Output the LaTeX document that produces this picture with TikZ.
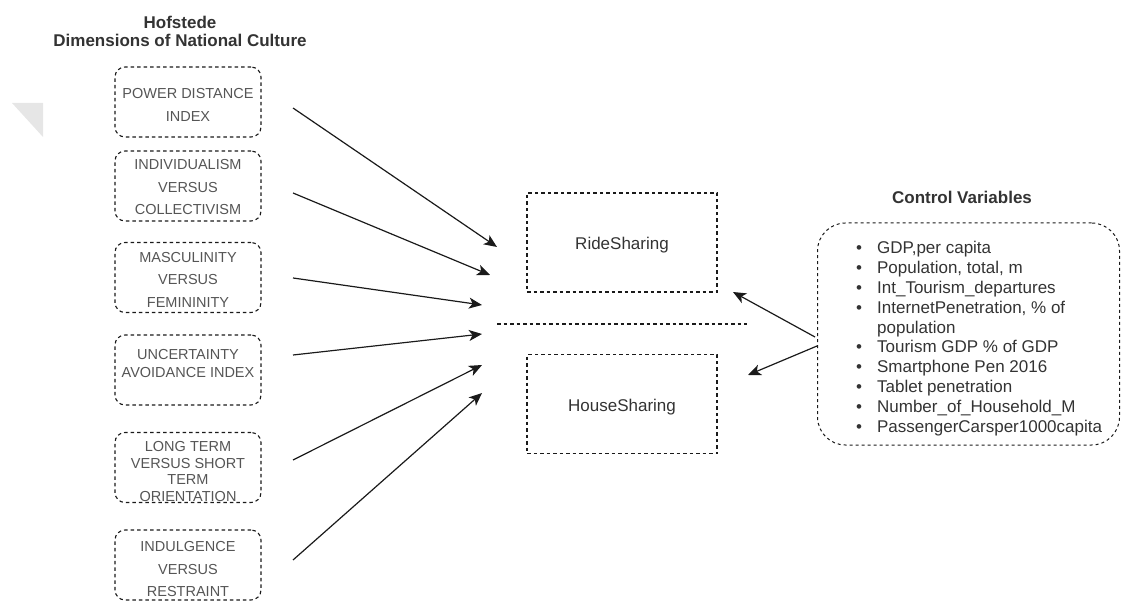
\documentclass[tikz,border=0pt]{standalone}
\usepackage{fontspec}
\setmainfont{Liberation Sans}
\usetikzlibrary{arrows.meta}
\definecolor{txt}{HTML}{333333}
\definecolor{boxtxt}{HTML}{555555}
\definecolor{ln}{HTML}{1a1a1a}
\definecolor{wm}{HTML}{E6E6E6}
\begin{document}
\begin{tikzpicture}[x=1pt,y=-1pt,
  dimbox/.style={draw=ln, line width=1.1pt, dash pattern=on 3.5pt off 3pt, rounded corners=10pt, minimum width=146pt, minimum height=70pt, inner sep=0pt},
  dimtext/.style={text=boxtxt, align=center, inner sep=0pt},
  depbox/.style={draw=ln, line width=1.1pt, dash pattern=on 3.5pt off 3pt, minimum width=190pt, minimum height=99pt, inner sep=0pt},
  deptext/.style={font=\fontsize{17}{20}\selectfont, text=txt, inner sep=0pt},
  arr/.style={draw=ln, line width=1.2pt, -{Stealth[length=13pt,width=11pt,inset=3.5pt]}},
  titletext/.style={font=\bfseries\fontsize{17}{18}\selectfont, text=txt, align=center, inner sep=0pt}
]
\useasboundingbox (0,0) rectangle (1121,601);
% faint watermark triangle
\fill[wm] (12,103) -- (43,103) -- (43,137) -- cycle;

% titles
\node[titletext] (ht) at (180,31) {Hofstede\\Dimensions of National Culture};
\node[titletext] (cvt) at (962,197) {Control Variables};

% left boxes
\node[dimbox] (b1) at (188,102) {};
\node[dimbox] (b2) at (188,186) {};
\node[dimbox] (b3) at (188,277.5) {};
\node[dimbox] (b4) at (188,370) {};
\node[dimbox] (b5) at (188,467.5) {};
\node[dimbox] (b6) at (188,565) {};

\node[dimtext, font=\fontsize{14.5}{23}\selectfont] (l1) at (b1.center) [yshift=-2.5pt] {POWER DISTANCE\\INDEX};
\node[dimtext, font=\fontsize{14.5}{22.5}\selectfont] (l2) at (188,187.5) {INDIVIDUALISM\\VERSUS\\COLLECTIVISM};
\node[dimtext, font=\fontsize{14.5}{22.5}\selectfont] (l3) at (188,279.5) {MASCULINITY\\VERSUS\\FEMININITY};
\node[dimtext, font=\fontsize{14.5}{18}\selectfont] (l4) at (188,364) {UNCERTAINTY\\AVOIDANCE INDEX};
\node[dimtext, font=\fontsize{14.5}{16.5}\selectfont] (l5) at (188,471.5) {LONG TERM\\VERSUS SHORT\\TERM\\ORIENTATION};
\node[dimtext, font=\fontsize{14.5}{22.5}\selectfont] (l6) at (188,569.5) {INDULGENCE\\VERSUS\\RESTRAINT};

% dependent boxes
\node[depbox] (ride) at (622,242.5) {};
\node[deptext] (ridet) at (622,245) {RideSharing};
\node[depbox] (house) at (622,404) {};
\node[deptext] (houset) at (622,407) {HouseSharing};
\coordinate (d1) at (497,324);
\coordinate (d2) at (747,324);
\draw[draw=ln, line width=1.1pt, dash pattern=on 3.5pt off 3pt] (d1) -- (d2);

% control variables box
\node[draw=ln, line width=1pt, dash pattern=on 3pt off 3pt, rounded corners=28pt, minimum width=302pt, minimum height=222pt, inner sep=0pt] (cv) at (968.5,334) {};
\node[anchor=west, inner sep=0pt, text=txt, font=\fontsize{17}{19.8}\selectfont] (lst) at (856,339) {%
\begin{tabular}{@{}l@{\hspace{15pt}}l@{}}
\textbullet & GDP,per capita\\
\textbullet & Population, total, m\\
\textbullet & Int\_Tourism\_departures\\
\textbullet & InternetPenetration, \% of\\
 & population\\
\textbullet & Tourism GDP \% of GDP\\
\textbullet & Smartphone Pen 2016\\
\textbullet & Tablet penetration\\
\textbullet & Number\_of\_Household\_M\\
\textbullet & PassengerCarsper1000capita
\end{tabular}};

% arrow end points
\coordinate (s1) at (293,108); \coordinate (t1) at (497,247);
\coordinate (s2) at (293,193); \coordinate (t2) at (490,275);
\coordinate (s3) at (293,278); \coordinate (t3) at (482,305);
\coordinate (s4) at (293,355); \coordinate (t4) at (482,334);
\coordinate (s5) at (293,460); \coordinate (t5) at (482,365);
\coordinate (s6) at (293,560); \coordinate (t6) at (482,393);
\coordinate (s7) at (815,337); \coordinate (t7) at (733,292);
\coordinate (s8) at (817,346); \coordinate (t8) at (748,375);

\draw[arr] (s1) -- (t1);
\draw[arr] (s2) -- (t2);
\draw[arr] (s3) -- (t3);
\draw[arr] (s4) -- (t4);
\draw[arr] (s5) -- (t5);
\draw[arr] (s6) -- (t6);
\draw[arr] (s7) -- (t7);
\draw[arr] (s8) -- (t8);
\end{tikzpicture}
\end{document}
